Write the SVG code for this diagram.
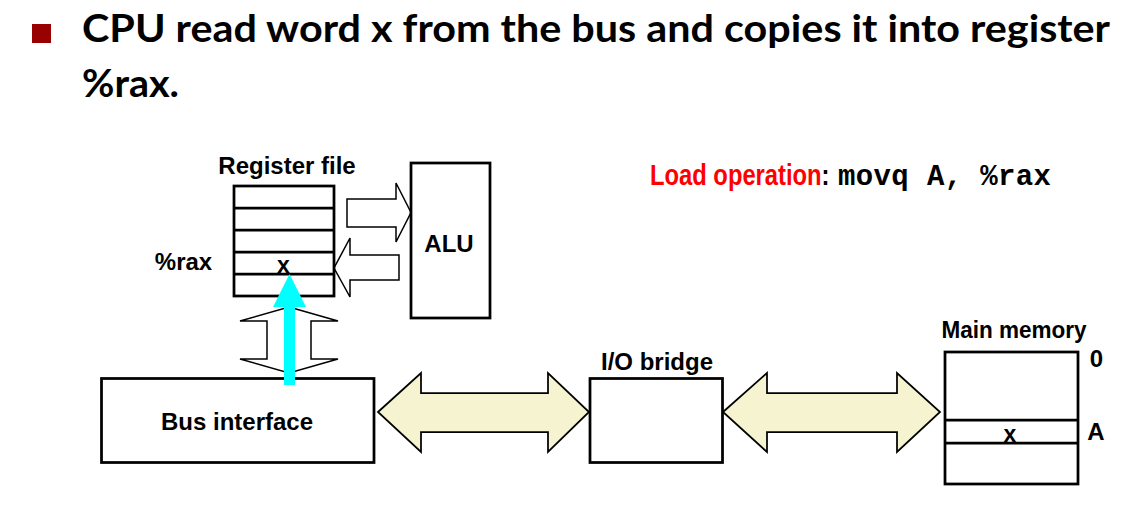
<svg xmlns="http://www.w3.org/2000/svg" width="1125" height="509" viewBox="0 0 1125 509">
<style>
.box{fill:#fff;stroke:#000;stroke-width:2.75}
.ln{stroke:#000;stroke-width:2.75}
.lbl{font-family:"Liberation Sans",Arial,sans-serif;font-weight:bold;font-size:24px;fill:#000}
.red{fill:#FF0000}
.title{font-family:Lato,"Open Sans",sans-serif;font-weight:bold;font-size:38px;fill:#000}
.out{fill:#fff;stroke:#000;stroke-width:1.5;stroke-linejoin:miter}
.bus{fill:#F5F3D0;stroke:#000;stroke-width:1.75;stroke-linejoin:miter}
.mono{font-family:"Liberation Mono","Courier New",monospace;font-weight:bold;font-size:29px;fill:#000}
</style>
<rect width="1125" height="509" fill="#fff"/>
<g id="title">
<rect x="32" y="24" width="19" height="19" fill="#990000"/>
<text class="title" x="82" y="42" textLength="1028" lengthAdjust="spacingAndGlyphs">CPU read word x from the bus and copies it into register</text>
<text class="title" x="82" y="97" textLength="97" lengthAdjust="spacingAndGlyphs">%rax.</text>
</g>
<g id="load-op">
<text class="lbl" transform="translate(650,185) scale(0.82,1)" style="font-size:29px" x="0" y="0"><tspan class="red">Load operation</tspan>:</text>
<text class="mono" x="838" y="185" textLength="213" lengthAdjust="spacing">movq A, %rax</text>
</g>
<g id="connectors">
<polygon class="out" points="347,199 396,199 396,183 411,212.5 396,242 396,227 347,227"/>
<polygon class="out" points="399,255 350,255 350,238 334,268 350,297 350,280 399,280"/>
<polygon class="out" points="289,307 338,321 311,321 311,359 338,359 289,373 240,359 267,359 267,321 240,321"/>
<polygon class="bus" points="378,412 421,373 421,393 548,393 548,373 589,412 548,452 548,432 421,432 421,452"/>
<polygon class="bus" points="723,412 767,373 767,393 897,393 897,373 940,412 897,452 897,432 767,432 767,452"/>
</g>
<g id="register-file">
<text class="lbl" x="287" y="174" text-anchor="middle">Register file</text>
<rect class="box" x="234" y="186" width="100" height="110"/>
<line class="ln" x1="234" y1="208" x2="334" y2="208"/>
<line class="ln" x1="234" y1="230" x2="334" y2="230"/>
<line class="ln" x1="234" y1="252" x2="334" y2="252"/>
<line class="ln" x1="234" y1="274" x2="334" y2="274"/>
<text class="lbl" x="283.5" y="273" text-anchor="middle" style="font-size:23px">x</text>
<text class="lbl" x="183.5" y="270" text-anchor="middle">%rax</text>
</g>
<g id="alu">
<rect class="box" x="411" y="163" width="79" height="155"/>
<text class="lbl" x="449" y="252" text-anchor="middle">ALU</text>
</g>
<g id="bus-interface">
<rect class="box" x="101.5" y="378.5" width="272.5" height="84"/>
<text class="lbl" x="237" y="430" text-anchor="middle">Bus interface</text>
</g>
<g id="io-bridge">
<text class="lbl" x="657" y="370" text-anchor="middle">I/O bridge</text>
<rect class="box" x="590" y="378.5" width="132.5" height="84"/>
</g>
<g id="main-memory">
<text class="lbl" x="1014" y="338" text-anchor="middle" textLength="145" lengthAdjust="spacingAndGlyphs">Main memory</text>
<rect class="box" x="945" y="352" width="133" height="132"/>
<line class="ln" x1="945" y1="420" x2="1078" y2="420"/>
<line class="ln" x1="945" y1="443" x2="1078" y2="443"/>
<text class="lbl" x="1010" y="442" text-anchor="middle" style="font-size:23px">x</text>
<text class="lbl" x="1096.5" y="367" text-anchor="middle">0</text>
<text class="lbl" x="1096" y="440" text-anchor="middle">A</text>
</g>
<g id="cyan-arrow">
<polygon fill="#00FFFF" points="289.5,274 306,307 295,307 295,385 284,385 284,307 273,307"/>
</g>
</svg>
